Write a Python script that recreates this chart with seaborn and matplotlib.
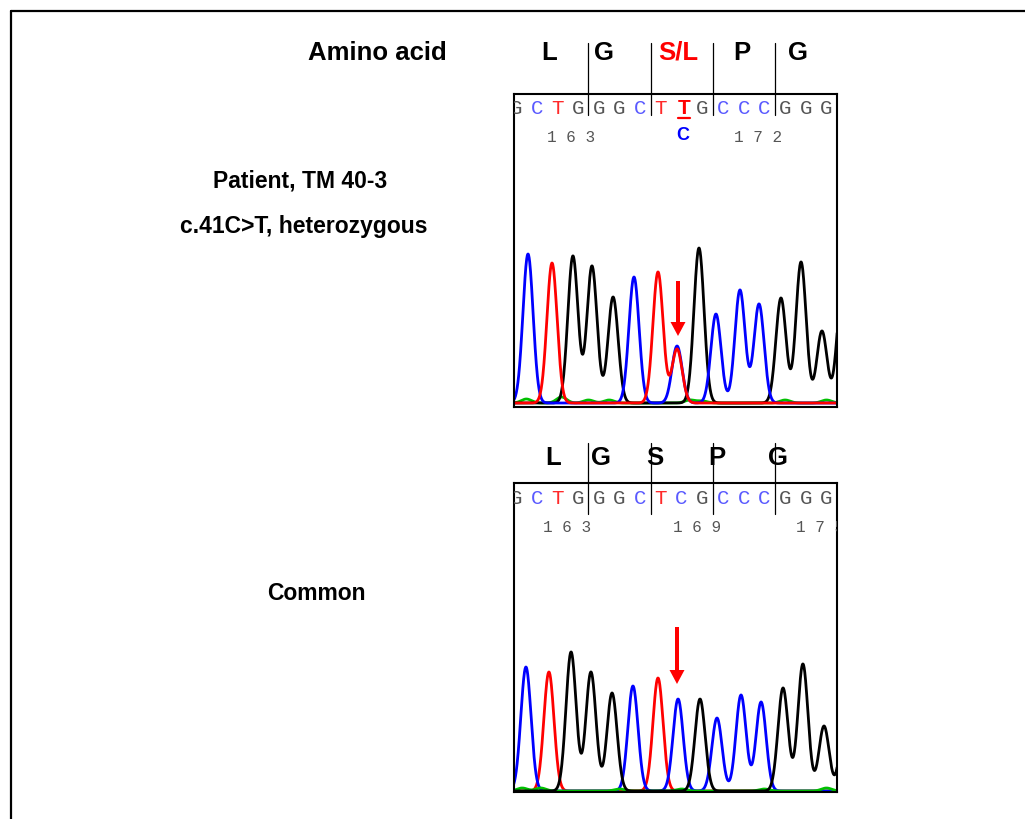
import numpy as np
import pandas as pd
import matplotlib
matplotlib.use("Agg")
import matplotlib.pyplot as plt
import seaborn as sns
from matplotlib.patches import FancyArrow

sns.set_style("white")
plt.rcParams['font.family'] = ['Liberation Sans', 'DejaVu Sans']
plt.rcParams['text.color'] = 'black'

# sequence read under each trace
seq_top = list("GCTGGGCTTGCCCGGG")
seq_bottom = list("GCTGGGCTCGCCCGGG")
aa_top = ["L", "G", "S/L", "P", "G"]
aa_bottom = ["L", "G", "S", "P", "G"]
num_top = ["163", "172"]
num_top_at = [2.66, 11.69]
num_bottom = ["163", "169", "175"]
num_bottom_at = [2.46, 8.74, 14.68]

# peaks (position in bases, height)
top_blue_pos = [0.58, 5.70, 7.78, 9.66, 10.82, 11.74]
top_blue_h = [149, 126, 57, 89, 113, 99]
top_red_pos = [1.74, 6.86, 7.78]
top_red_h = [140, 131, 54]
top_black_pos = [2.75, 3.67, 4.69, 8.84, 12.80, 13.77, 14.78, 15.75]
top_black_h = [147, 137, 106, 155, 105, 141, 72, 110]
top_green_pos = [0.5, 2.2, 3.5, 4.5, 8.4, 9.0, 13.0, 15.0]
top_green_h = [4, 6, 3, 3, 3, 2, 3, 3]

bot_blue_pos = [0.48, 5.65, 7.83, 9.71, 10.87, 11.84]
bot_blue_h = [124, 105, 92, 73, 96, 89]
bot_red_pos = [1.59, 6.86]
bot_red_h = [119, 113]
bot_black_pos = [2.66, 3.62, 4.64, 8.89, 12.90, 13.86, 14.88, 15.89]
bot_black_h = [139, 119, 98, 92, 103, 127, 65, 70]
bot_green_pos = [0.3, 1.2, 5.0, 8.0, 12.0, 15.0]
bot_green_h = [3, 3, 2, 2, 2, 3]

colors = {"G": "#555555", "C": "#5a5aff", "T": "#ff2a2a"}
trace_pal = {"green": "#00c000", "black": "black", "blue": "#0000ff", "red": "#ff0000"}


def trace(x, pos, h, s=0.245):
    y = np.zeros_like(x)
    for p, hh in zip(pos, h):
        y = y + hh * np.exp(-(x - p) ** 2 / (2 * s * s))
    return y


def build(peaks):
    x = np.linspace(-0.2, 15.7, 1200)
    frames = []
    for ch, (pos, h) in peaks.items():
        frames.append(pd.DataFrame({"x": x, "signal": trace(x, pos, h), "channel": ch}))
    return pd.concat(frames, ignore_index=True)


df_top = build({"green": (top_green_pos, top_green_h), "black": (top_black_pos, top_black_h),
                "blue": (top_blue_pos, top_blue_h), "red": (top_red_pos, top_red_h)})
df_bot = build({"red": (bot_red_pos, bot_red_h), "blue": (bot_blue_pos, bot_blue_h),
                "green": (bot_green_pos, bot_green_h), "black": (bot_black_pos, bot_black_h)})

W, H = 1025, 819
fig = plt.figure(figsize=(W / 100, H / 100), dpi=100)

x0, step = 516, 20.7  # pixel of base 0, pixels per base


def px2base(p):
    return (p - x0) / step


def panel(top, bottom, base, df, order):
    ax = fig.add_axes([514 / W, (H - bottom) / H, 323 / W, (bottom - top) / H])
    sns.lineplot(data=df, x="x", y="signal", hue="channel", palette=trace_pal,
                 hue_order=order, estimator=None,
                 linewidth=2.0, legend=False, ax=ax)
    ax.set_xlim(px2base(514), px2base(837))
    ax.set_ylim(base - bottom, base - top)
    ax.set_xticks([])
    ax.set_yticks([])
    ax.set_xlabel("")
    ax.set_ylabel("")
    for s in ax.spines.values():
        s.set_color("black")
        s.set_linewidth(1.5)
    return ax


ax1 = panel(94, 407, 403, df_top, ["green", "black", "blue", "red"])
ax2 = panel(483, 792, 791, df_bot, ["red", "blue", "green", "black"])

# base calls
for i, b in enumerate(seq_top):
    if i == 8:
        ax1.text(8.1, 403 - 109, b, color="red", fontsize=15, fontweight="bold",
                 ha="center", va="center", clip_on=True)
    else:
        ax1.text(i, 403 - 108, b, color=colors[b], fontsize=15, family="Liberation Mono",
                 ha="center", va="center", clip_on=True)
for i, b in enumerate(seq_bottom):
    ax2.text(i, 791 - 499, b, color=colors[b], fontsize=15, family="Liberation Mono",
             ha="center", va="center", clip_on=True)
for t, p in zip(num_top, num_top_at):
    ax1.text(p, 403 - 137, " ".join(t), color="#555555", fontsize=11.5, family="Liberation Mono",
             ha="center", va="center", clip_on=True)
for t, p in zip(num_bottom, num_bottom_at):
    ax2.text(p, 791 - 527, " ".join(t), color="#555555", fontsize=11.5, family="Liberation Mono",
             ha="center", va="center", clip_on=True)
ax1.text(8.07, 403 - 136, "C", color="#0000ff", fontsize=13, fontweight="bold",
         ha="center", va="center")

# overlay in pixel coordinates
ov = fig.add_axes([0, 0, 1, 1], zorder=10)
ov.set_xlim(0, W)
ov.set_ylim(H, 0)
ov.axis("off")
ov.patch.set_alpha(0)

ov.plot([11, W], [10.5, 10.5], color="black", lw=1.6)
ov.plot([11, 11], [10.5, H], color="black", lw=1.6)

# codon boundaries
for b in [3.5, 6.5, 9.5, 12.5]:
    ov.plot([x0 + step * b] * 2, [43, 115], color="black", lw=0.9)
    ov.plot([x0 + step * b] * 2, [443, 514], color="black", lw=0.9)

aa_top_x = [549, 604, 678, 742, 798]
aa_bot_x = [553, 601, 655, 717, 778]
for a, x in zip(aa_top, aa_top_x):
    ov.text(x, 53, a, fontsize=18.5, fontweight="bold", ha="center", va="center",
            color="red" if "/" in a else "black")
for a, x in zip(aa_bottom, aa_bot_x):
    ov.text(x, 458, a, fontsize=18.5, fontweight="bold", ha="center", va="center")

ov.plot([678, 690], [117.5, 117.5], color="red", lw=1.6)

ov.text(377, 53, "Amino acid", fontsize=18.5, fontweight="bold", ha="center", va="center")
ov.text(300, 181, "Patient, TM 40-3", fontsize=16.5, fontweight="bold", ha="center", va="center")
ov.text(304, 226, "c.41C>T, heterozygous", fontsize=16.5, fontweight="bold", ha="center", va="center")
ov.text(316, 593, "Common", fontsize=16.5, fontweight="bold", ha="center", va="center")

# arrows marking the variant
ov.add_patch(FancyArrow(678, 281, 0, 55, width=4, head_width=15, head_length=14,
                        length_includes_head=True, color="red", lw=0))
ov.add_patch(FancyArrow(677, 627, 0, 57, width=4, head_width=15, head_length=14,
                        length_includes_head=True, color="red", lw=0))

fig.savefig("out.png", dpi=100)
